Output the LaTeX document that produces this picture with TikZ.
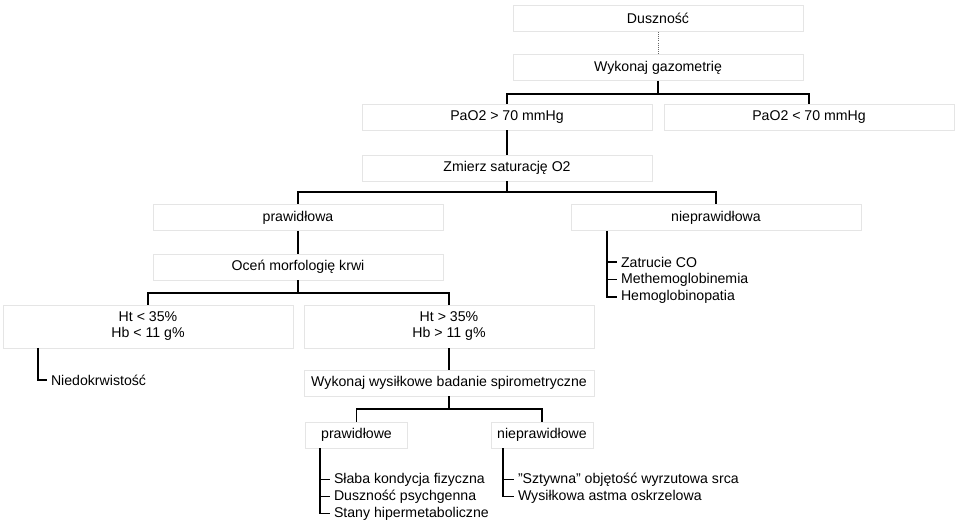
\documentclass[tikz,border=0pt]{standalone}
\usepackage{fontspec}
\setmainfont{Liberation Sans}
\begin{document}
\begin{tikzpicture}[x=0.75pt,y=-0.75pt,
  box/.style={draw=black!10, fill=white, line width=0.6pt, inner sep=0pt, minimum width=217.5pt, minimum height=19.5pt, align=center, font=\fontsize{10.6}{12}\selectfont},
  tallbox/.style={box, minimum height=32.25pt},
  smallbox/.style={box, minimum width=76.5pt},
  item/.style={anchor=west, inner sep=0pt, outer sep=3pt, font=\fontsize{10.6}{12}\selectfont},
  conn/.style={draw=black, line width=0.8pt},
  dot/.style={draw=black!60, densely dotted, line width=0.6pt}]
\useasboundingbox (0,0) rectangle (959,523);
\node[box] (dus) at (658,18.5) {Duszność};
\node[box] (gaz) at (658,67.5) {Wykonaj gazometrię};
\node[box] (pa1) at (507,117) {PaO2 > 70 mmHg};
\node[box] (pa2) at (809,117) {PaO2 < 70 mmHg};
\node[box] (sat) at (507,168) {Zmierz saturację O2};
\node[box] (praw) at (298,217.5) {prawidłowa};
\node[box] (npraw) at (716,217.5) {nieprawidłowa};
\node[box] (ocen) at (298,267) {Oceń morfologię krwi};
\node[tallbox] (ht1) at (148,326.5) {Ht < 35\%\\Hb < 11 g\%};
\node[tallbox] (ht2) at (449,326.5) {Ht > 35\%\\Hb > 11 g\%};
\node[box] (spiro) at (449,383) {Wykonaj wysiłkowe badanie spirometryczne};
\node[smallbox] (pr2) at (356.5,435) {prawidłowe};
\node[smallbox] (np2) at (542,435) {nieprawidłowe};

\draw[dot] (dus.south) -- (gaz.north);
\coordinate (j1) at (658,94);
\draw[conn] (gaz.south) -- (j1) -| (pa1.north);
\draw[conn] (j1) -| (pa2.north);
\draw[conn] (pa1.south) -- (sat.north);
\coordinate (j2) at (507,192);
\draw[conn] (sat.south) -- (j2) -| (praw.north);
\draw[conn] (j2) -| (npraw.north);
\draw[conn] (praw.south) -- (ocen.north);
\coordinate (j3) at (298,293);
\draw[conn] (ocen.south) -- (j3) -| (ht1.north);
\draw[conn] (j3) -| (ht2.north);
\draw[conn] (ht2.south) -- (spiro.north);
\coordinate (j4) at (449,409);
\draw[conn] (spiro.south) -- (j4) -| (pr2.north);
\draw[conn] (j4) -| (np2.north);

% nieprawidlowa list
\node[item] (z1) at (617,262) {Zatrucie CO};
\node[item] (z2) at (617,279.5) {Methemoglobinemia};
\node[item] (z3) at (617,297) {Hemoglobinopatia};
\coordinate (v1) at (607,231);
\draw[conn] (v1) |- (z3.west);
\draw[conn] (z1.west -| v1) -- (z1.west);
\draw[conn] (z2.west -| v1) -- (z2.west);

% Niedokrwistosc
\node[item] (nd) at (47,380) {Niedokrwistość};
\coordinate (v2) at (38,348);
\draw[conn] (v2) |- (nd.west);

% prawidlowe list
\node[item] (p1) at (330,479.5) {Słaba kondycja fizyczna};
\node[item] (p2) at (330,496.5) {Duszność psychgenna};
\node[item] (p3) at (330,513.5) {Stany hipermetaboliczne};
\coordinate (v3) at (320,448);
\draw[conn] (v3) |- (p3.west);
\draw[conn] (p1.west -| v3) -- (p1.west);
\draw[conn] (p2.west -| v3) -- (p2.west);

% nieprawidlowe list
\node[item] (q1) at (514,479.5) {\symbol{34}Sztywna\symbol{34} objętość wyrzutowa srca};
\node[item] (q2) at (514,496.5) {Wysiłkowa astma oskrzelowa};
\coordinate (v4) at (503,448);
\draw[conn] (v4) |- (q2.west);
\draw[conn] (q1.west -| v4) -- (q1.west);
\end{tikzpicture}
\end{document}
